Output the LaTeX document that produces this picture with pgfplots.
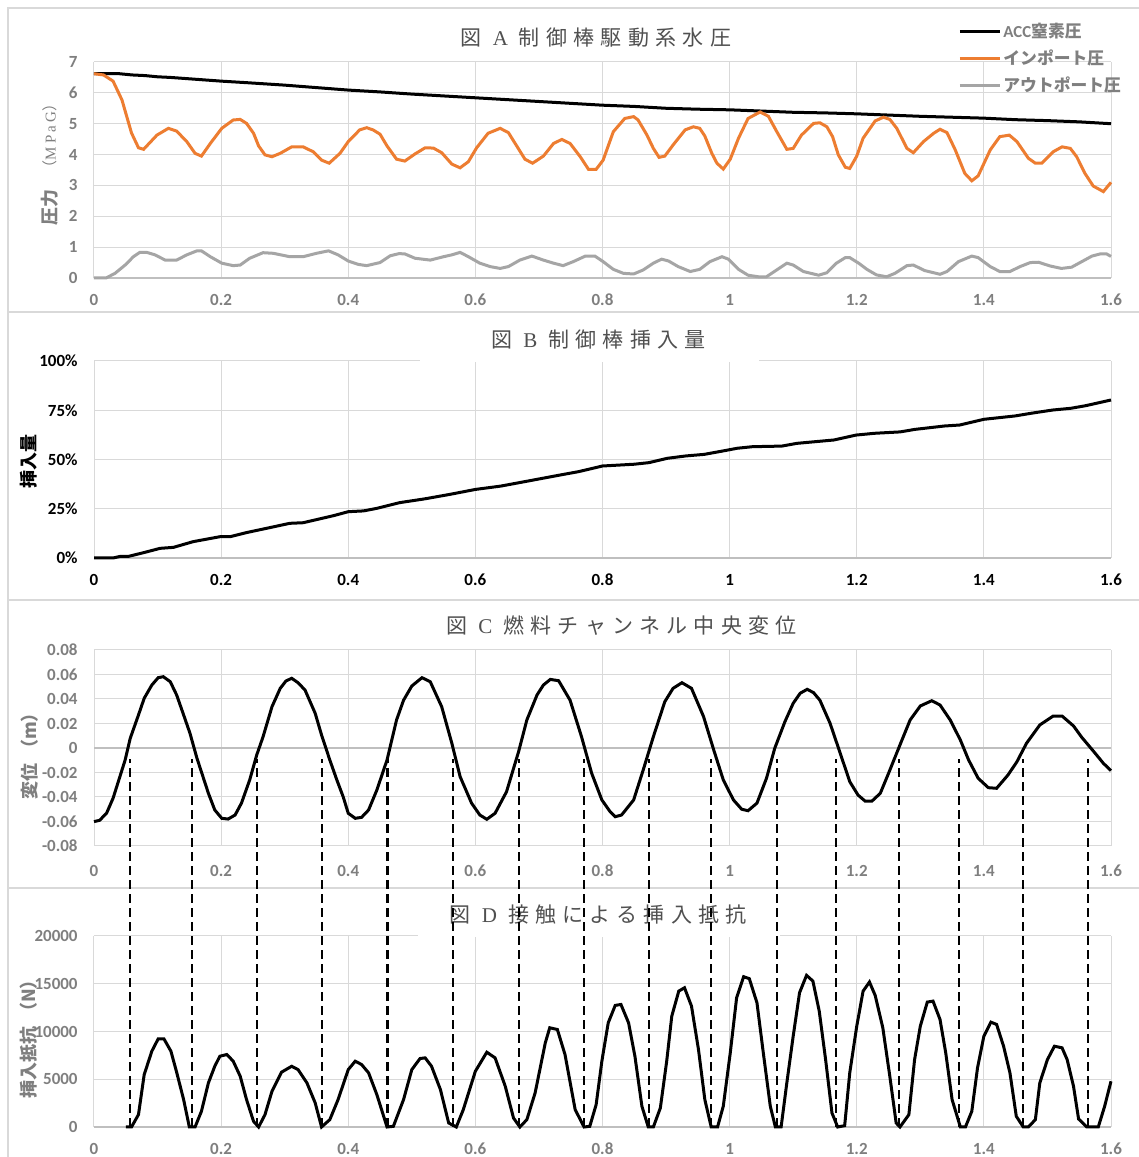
\documentclass[border=0pt]{standalone}
\usepackage{pgfplots}
\pgfplotsset{compat=1.18}
\usepackage{fontspec}
\setmainfont{Carlito}
\newfontfamily\cjk{Noto Sans CJK JP}
\newfontfamily\cjkt{Noto Sans CJK JP}[LetterSpace=30]
\newfontfamily\lserif{Liberation Serif}
\newfontfamily\lseriflt{Liberation Serif}[LetterSpace=30]
\newfontfamily\lserifsp{Liberation Serif}[LetterSpace=20]
\definecolor{gridc}{HTML}{D9D9D9}
\definecolor{axisc}{HTML}{BFBFBF}
\definecolor{framec}{HTML}{D9D9D9}
\definecolor{tickc}{HTML}{7F7F7F}
\definecolor{titlec}{HTML}{505050}
\definecolor{xlorange}{HTML}{ED7D31}
\definecolor{xlgray}{HTML}{A5A5A5}
\pgfplotsset{
  panel/.style={
    scale only axis, width=508.5pt, height=#1,
    xmin=0, xmax=1.6,
    xtick={0,0.2,0.4,0.6,0.8,1,1.2,1.4,1.6},
    xticklabels={0,0.2,0.4,0.6,0.8,1,1.2,1.4,1.6},
    scaled ticks=false,
    grid=major,
    major grid style={draw=gridc, line width=0.5pt},
    axis line style={draw=none},
    major tick length=0pt,
    tick style={draw=none},
    ticklabel style={font=\fontsize{8.5}{10}\selectfont\bfseries, text=tickc},
    xticklabel style={anchor=center, yshift=-11pt, inner sep=0pt},
    yticklabel style={anchor=east, xshift=-8pt, inner sep=0pt},
    clip=false,
    anchor=south west,
  },
  baseline/.style={axisc, line width=0.75pt, forget plot},
  dashline/.style={black, line width=1.1pt, dash pattern=on 4.5pt off 2.5pt, forget plot},
  legend image code/.code={\draw[#1] (0pt,0pt) -- (20pt,0pt);},
}
\begin{document}
\begin{tikzpicture}
\useasboundingbox (0,0) rectangle (569.5pt,578.5pt);
\fill[white] (0,0) rectangle (569.5pt,578.5pt);
% frames
\draw[framec, line width=0.75pt] (4pt,-10pt) -- (4pt,574.5pt) -- (600pt,574.5pt);
\draw[framec, line width=0.75pt] (4pt,422.5pt) -- (600pt,422.5pt);
\draw[framec, line width=0.75pt] (4pt,278.5pt) -- (600pt,278.5pt);
\draw[framec, line width=0.75pt] (4pt,134.5pt) -- (600pt,134.5pt);

% ---------------- Panel A
\begin{axis}[panel=108pt, at={(47pt,439.5pt)},
  ymin=0, ymax=7, ytick={0,1,2,3,4,5,6,7}, yticklabels={0,1,2,3,4,5,6,7},
  legend style={at={(0.8496,1.192)}, anchor=north west, draw=none, fill=none,
    font=\fontsize{8.4}{10}\selectfont\bfseries, text=tickc, row sep=2.6pt,
    inner sep=0pt, nodes={inner sep=1pt}, cells={anchor=west}},
]
\addplot[baseline] coordinates {(0,0) (1.6,0)};
\addplot[black, line width=1.5pt] coordinates {
(0,6.62) (0.04,6.62) (0.06,6.58) (0.08,6.56) (0.1,6.52) (0.12,6.5) (0.16,6.44) (0.2,6.38)
(0.24,6.33) (0.3,6.25) (0.35,6.17) (0.4,6.09) (0.45,6.03) (0.5,5.96) (0.55,5.9) (0.6,5.84)
(0.65,5.78) (0.7,5.72) (0.75,5.66) (0.8,5.6) (0.85,5.56) (0.9,5.5) (0.95,5.47) (1.0,5.45)
(1.05,5.41) (1.1,5.37) (1.15,5.35) (1.2,5.32) (1.25,5.28) (1.3,5.24) (1.35,5.21) (1.4,5.18)
(1.45,5.13) (1.5,5.1) (1.55,5.06) (1.6,5.0)};
\addlegendentry{ACC{\cjk 窒素圧}}
\addplot[xlorange, line width=1.5pt] coordinates {
(0,6.62) (0.015,6.58) (0.03,6.38) (0.044,5.77) (0.059,4.70) (0.07,4.22) (0.078,4.17) (0.099,4.63)
(0.117,4.85) (0.130,4.76) (0.146,4.42) (0.159,4.04) (0.169,3.95) (0.183,4.36) (0.201,4.85) (0.219,5.12)
(0.230,5.14) (0.240,5.01) (0.251,4.69) (0.259,4.28) (0.269,3.99) (0.280,3.93) (0.293,4.04) (0.311,4.25)
(0.329,4.25) (0.345,4.09) (0.358,3.82) (0.370,3.72) (0.387,4.04) (0.400,4.42) (0.418,4.80) (0.429,4.87)
(0.439,4.80) (0.450,4.66) (0.461,4.28) (0.476,3.85) (0.489,3.79) (0.505,4.02) (0.521,4.22) (0.534,4.21)
(0.547,4.06) (0.563,3.69) (0.576,3.57) (0.589,3.77) (0.602,4.22) (0.620,4.69) (0.639,4.85) (0.652,4.71)
(0.665,4.28) (0.678,3.85) (0.690,3.72) (0.707,3.95) (0.723,4.36) (0.736,4.49) (0.749,4.36) (0.765,3.93)
(0.778,3.52) (0.790,3.52) (0.801,3.82) (0.817,4.74) (0.835,5.17) (0.849,5.23) (0.856,5.12) (0.870,4.63)
(0.880,4.20) (0.889,3.91) (0.898,3.95) (0.911,4.31) (0.930,4.80) (0.943,4.90) (0.953,4.85) (0.961,4.60)
(0.972,4.04) (0.980,3.72) (0.990,3.53) (1.001,3.85) (1.014,4.53) (1.029,5.17) (1.048,5.38) (1.061,5.24)
(1.074,4.75) (1.090,4.17) (1.100,4.20) (1.113,4.63) (1.132,5.01) (1.142,5.03) (1.153,4.90) (1.162,4.58)
(1.171,3.99) (1.182,3.59) (1.189,3.55) (1.200,3.95) (1.210,4.53) (1.229,5.09) (1.242,5.21) (1.252,5.14)
(1.263,4.85) (1.279,4.20) (1.289,4.06) (1.305,4.42) (1.321,4.69) (1.331,4.82) (1.342,4.71) (1.355,4.15)
(1.370,3.39) (1.381,3.15) (1.391,3.31) (1.410,4.15) (1.425,4.58) (1.440,4.63) (1.452,4.42) (1.470,3.88)
(1.481,3.72) (1.491,3.72) (1.509,4.09) (1.523,4.25) (1.536,4.20) (1.546,3.93) (1.559,3.39) (1.572,2.98)
(1.588,2.80) (1.6,3.10)};
\addlegendentry{{\cjk インポート圧}}
\addplot[xlgray, line width=1.5pt] coordinates {
(0,0) (0.019,0) (0.033,0.15) (0.049,0.42) (0.062,0.69) (0.072,0.83) (0.083,0.83) (0.096,0.75)
(0.112,0.58) (0.130,0.58) (0.146,0.75) (0.162,0.88) (0.169,0.88) (0.183,0.69) (0.201,0.48) (0.219,0.40)
(0.230,0.42) (0.245,0.64) (0.266,0.82) (0.282,0.80) (0.308,0.69) (0.329,0.69) (0.350,0.80) (0.369,0.88)
(0.384,0.75) (0.400,0.55) (0.416,0.44) (0.429,0.40) (0.450,0.50) (0.466,0.72) (0.480,0.79) (0.489,0.78)
(0.505,0.64) (0.529,0.58) (0.550,0.69) (0.563,0.75) (0.576,0.83) (0.589,0.69) (0.607,0.48) (0.623,0.37)
(0.639,0.31) (0.652,0.37) (0.670,0.58) (0.689,0.71) (0.707,0.58) (0.723,0.48) (0.738,0.40) (0.754,0.53)
(0.773,0.71) (0.788,0.71) (0.801,0.53) (0.817,0.28) (0.833,0.15) (0.849,0.13) (0.864,0.26) (0.880,0.48)
(0.893,0.61) (0.904,0.55) (0.919,0.37) (0.938,0.21) (0.953,0.28) (0.969,0.53) (0.988,0.69) (0.998,0.61)
(1.014,0.28) (1.029,0.09) (1.045,0.04) (1.058,0.04) (1.074,0.26) (1.090,0.48) (1.100,0.42) (1.116,0.21)
(1.140,0.09) (1.153,0.17) (1.168,0.48) (1.182,0.66) (1.189,0.66) (1.203,0.48) (1.216,0.28) (1.231,0.10)
(1.247,0.04) (1.260,0.15) (1.279,0.40) (1.289,0.42) (1.307,0.24) (1.331,0.12) (1.342,0.21) (1.360,0.53)
(1.381,0.71) (1.391,0.66) (1.410,0.37) (1.425,0.21) (1.441,0.21) (1.457,0.37) (1.473,0.50) (1.486,0.51)
(1.504,0.39) (1.522,0.31) (1.538,0.35) (1.554,0.53) (1.570,0.71) (1.583,0.78) (1.593,0.78) (1.6,0.70)};
\addlegendentry{{\cjk アウトポート圧}}
\node[font=\fontsize{10.5}{12}\selectfont, text=titlec, inner sep=0pt] at (rel axis cs:0.4935,1.111)
  {\cjkt 図 {\lseriflt A} 制御棒駆動系水圧};
\end{axis}

% ---------------- Panel B
\begin{axis}[panel=98.5pt, at={(47pt,299.5pt)},
  ymin=0, ymax=100, ytick={0,25,50,75,100}, yticklabels={0\%,25\%,50\%,75\%,100\%},
  ticklabel style={text=black},
]
\addplot[baseline] coordinates {(0,0) (1.6,0)};
\addplot[black, line width=1.5pt] coordinates {
(0,0) (0.030,0) (0.041,0.8) (0.054,0.8) (0.078,2.7) (0.104,4.9) (0.125,5.4) (0.156,8.3)
(0.198,10.8) (0.214,10.8) (0.240,12.9) (0.272,15.1) (0.308,17.6) (0.329,17.9) (0.377,21.5) (0.400,23.5)
(0.424,23.9) (0.445,25.2) (0.481,28.1) (0.52,30.0) (0.56,32.3) (0.6,34.8) (0.64,36.5) (0.68,38.9)
(0.733,42.1) (0.762,43.8) (0.8,46.7) (0.850,47.6) (0.873,48.4) (0.902,50.6) (0.931,51.8) (0.960,52.6)
(0.989,54.3) (1.012,55.7) (1.036,56.5) (1.082,56.8) (1.106,58.2) (1.164,59.9) (1.199,62.4) (1.228,63.3)
(1.268,64.0) (1.292,65.3) (1.338,67.0) (1.362,67.5) (1.4,70.4) (1.449,72.1) (1.473,73.4) (1.508,75.1)
(1.537,76.0) (1.560,77.3) (1.6,80.2)};
\fill[white] (rel axis cs:0.3205,0.9924) rectangle (rel axis cs:0.6539,1.2);
\node[font=\fontsize{10.5}{12}\selectfont, text=titlec, inner sep=0pt] at (rel axis cs:0.4961,1.109)
  {\cjkt 図 {\lseriflt B} 制御棒挿入量};
\end{axis}

% ---------------- Panel C
\begin{axis}[panel=98pt, at={(47pt,155.5pt)},
  ymin=-0.08, ymax=0.08, ytick={-0.08,-0.06,-0.04,-0.02,0,0.02,0.04,0.06,0.08},
  yticklabels={-0.08,-0.06,-0.04,-0.02,0,0.02,0.04,0.06,0.08},
  xticklabel style={yshift=-1.5pt},
]
\addplot[baseline] coordinates {(0,0) (1.6,0)};
\addplot[black, line width=1.5pt] coordinates {
(0,-0.0601) (0.009,-0.059) (0.020,-0.053) (0.030,-0.041) (0.049,-0.0098) (0.057,0.0079) (0.070,0.027) (0.079,0.0406)
(0.091,0.0514) (0.101,0.0574) (0.109,0.0582) (0.120,0.0541) (0.130,0.0433) (0.141,0.027) (0.151,0.012) (0.162,-0.0084)
(0.180,-0.037) (0.190,-0.0506) (0.201,-0.0574) (0.211,-0.058) (0.222,-0.0547) (0.232,-0.045) (0.245,-0.026) (0.256,-0.0057)
(0.266,0.0092) (0.280,0.0337) (0.293,0.0487) (0.302,0.0547) (0.311,0.0569) (0.321,0.0533) (0.332,0.0473) (0.348,0.0283)
(0.358,0.0106) (0.371,-0.0098) (0.382,-0.026) (0.392,-0.0398) (0.400,-0.0533) (0.411,-0.0574) (0.421,-0.0566) (0.432,-0.0506)
(0.445,-0.0343) (0.461,-0.0098) (0.476,0.0229) (0.487,0.039) (0.500,0.0506) (0.516,0.0574) (0.529,0.0541) (0.547,0.0337)
(0.563,0.0038) (0.576,-0.0234) (0.594,-0.045) (0.607,-0.0547) (0.618,-0.0582) (0.631,-0.0533) (0.649,-0.0357) (0.668,-0.003)
(0.681,0.0229) (0.697,0.0433) (0.707,0.0514) (0.718,0.056) (0.731,0.0549) (0.749,0.039) (0.767,0.0092) (0.783,-0.0207)
(0.799,-0.0424) (0.812,-0.052) (0.820,-0.0561) (0.830,-0.0547) (0.849,-0.0424) (0.864,-0.018) (0.880,0.0092) (0.898,0.0378)
(0.911,0.0487) (0.925,0.0533) (0.940,0.0487) (0.959,0.0256) (0.975,-0.0016) (0.990,-0.026) (1.006,-0.0424) (1.019,-0.05)
(1.029,-0.0512) (1.043,-0.045) (1.058,-0.0247) (1.071,-0.0002) (1.087,0.0215) (1.100,0.0365) (1.111,0.0447) (1.122,0.0479)
(1.132,0.0452) (1.142,0.039) (1.158,0.0202) (1.174,-0.0043) (1.189,-0.0275) (1.202,-0.0384) (1.213,-0.0433) (1.224,-0.0433)
(1.237,-0.037) (1.250,-0.0207) (1.269,0.0038) (1.284,0.0229) (1.300,0.0343) (1.318,0.0386) (1.331,0.0351) (1.347,0.0229)
(1.363,0.0065) (1.376,-0.0098) (1.391,-0.0247) (1.407,-0.0324) (1.420,-0.0329) (1.438,-0.022) (1.452,-0.0112) (1.467,0.0038)
(1.488,0.0188) (1.509,0.0261) (1.523,0.0261) (1.541,0.018) (1.554,0.0087) (1.573,-0.003) (1.588,-0.0125) (1.6,-0.0185)};
\node[font=\fontsize{10.5}{12}\selectfont, text=titlec, inner sep=0pt] at (rel axis cs:0.5187,1.1224)
  {\cjkt 図 {\lseriflt C} 燃料チャンネル中央変位};
\end{axis}

% ---------------- Panel D
\begin{axis}[panel=95.5pt, at={(47pt,15pt)},
  ymin=0, ymax=20000, ytick={0,5000,10000,15000,20000},
  yticklabels={0,5000,10000,15000,20000},
]
\addplot[baseline] coordinates {(0,0) (1.6,0)};
\addplot[black, line width=1.5pt] coordinates {
(0.050,0) (0.059,0) (0.070,1300) (0.079,5490) (0.091,7940) (0.101,9230) (0.110,9230) (0.121,7940)
(0.130,5740) (0.141,2870) (0.150,0) (0.159,0) (0.169,1640) (0.180,4620) (0.190,6360) (0.198,7410)
(0.209,7590) (0.219,6890) (0.230,5320) (0.240,2870) (0.251,590) (0.259,0) (0.269,1290) (0.280,3740)
(0.295,5740) (0.311,6360) (0.321,6010) (0.335,4620) (0.348,2520) (0.358,0) (0.371,770) (0.384,2870)
(0.400,6010) (0.411,6890) (0.421,6540) (0.432,5670) (0.445,3390) (0.461,0) (0.471,70) (0.487,2870)
(0.500,6010) (0.513,7170) (0.521,7240) (0.531,6360) (0.545,3920) (0.558,420) (0.570,0) (0.581,1820)
(0.600,5840) (0.618,7830) (0.631,7240) (0.647,4270) (0.660,940) (0.670,0) (0.681,770) (0.694,3570)
(0.710,8810) (0.717,10390) (0.729,10210) (0.741,7590) (0.757,1820) (0.771,0) (0.780,70) (0.790,2340)
(0.799,6890) (0.809,10910) (0.820,12730) (0.829,12830) (0.841,10910) (0.851,7410) (0.862,2170) (0.872,0)
(0.880,0) (0.891,1990) (0.901,6890) (0.909,11610) (0.920,14230) (0.929,14580) (0.940,12660) (0.951,8110)
(0.961,2870) (0.971,0) (0.981,0) (0.990,2170) (1.001,7760) (1.011,13530) (1.022,15740) (1.031,15530)
(1.043,13010) (1.053,7760) (1.064,2170) (1.072,0) (1.081,0) (1.090,4620) (1.100,9510) (1.110,14060)
(1.121,15880) (1.131,15280) (1.141,12130) (1.151,7060) (1.161,1470) (1.170,0) (1.181,140) (1.189,5670)
(1.200,10560) (1.210,14230) (1.220,15180) (1.229,13780) (1.241,10390) (1.252,5320) (1.262,420) (1.268,0)
(1.282,1290) (1.291,7060) (1.300,10560) (1.311,13080) (1.320,13180) (1.331,11260) (1.340,7760) (1.350,2870)
(1.363,0) (1.371,0) (1.381,1640) (1.390,6190) (1.400,9510) (1.411,10980) (1.420,10740) (1.431,8460)
(1.441,5670) (1.451,1120) (1.462,0) (1.470,0) (1.481,770) (1.488,4620) (1.500,7060) (1.511,8460)
(1.523,8290) (1.531,7060) (1.541,4270) (1.549,840) (1.562,0) (1.580,0) (1.590,2170) (1.6,4790)};
\fill[white] (rel axis cs:0.3186,0.993) rectangle (rel axis cs:0.6745,1.2);
\node[font=\fontsize{10.5}{12}\selectfont, text=titlec, inner sep=0pt] at (rel axis cs:0.4959,1.110)
  {\cjkt 図 {\lseriflt D} 接触による挿入抵抗};
\pgfplotsinvokeforeach{0.0566,0.1537,0.2564,0.3587,0.4618,0.5653,0.6686,0.7709,0.8736,0.9707,1.0746,1.1674,1.2660,1.3609,1.4621,1.5634}{
  \addplot[dashline] coordinates {(#1,0) (#1,38500)};
}
\end{axis}

% y-axis titles
\node[rotate=90, font=\fontsize{9}{10}\selectfont\bfseries, text=tickc, inner sep=0pt] at (25pt,474.5pt) {\cjk 圧力};
\node[rotate=90, font=\fontsize{7.5}{8}\selectfont, text=tickc, inner sep=0pt] at (25pt,510.5pt) {{\cjk （}{\lserifsp MPaG}{\cjk ）}};
\node[rotate=90, font=\fontsize{9}{10}\selectfont\bfseries, text=black, inner sep=0pt] at (14.5pt,347.75pt) {\cjk 挿入量};
\node[rotate=90, font=\fontsize{9}{10}\selectfont\bfseries, text=tickc, inner sep=0pt] at (14.75pt,202.5pt) {\cjk 変位\hspace{3pt}（m）};
\node[rotate=90, font=\fontsize{9}{10}\selectfont\bfseries, text=tickc, inner sep=0pt] at (14.5pt,61pt) {\cjk 挿入抵抗\hspace{3pt}（N）};
\end{tikzpicture}
\end{document}
